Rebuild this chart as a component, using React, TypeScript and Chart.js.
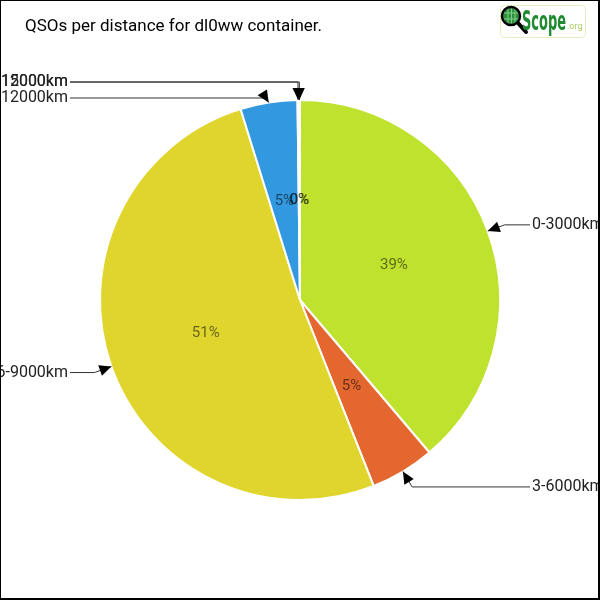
import { useEffect, useRef } from "react";
import { Chart, registerables } from "chart.js";

Chart.register(...registerables);

const TITLE = "QSOs per distance for dl0ww container.";
const categories = ["0-3000km", "3-6000km", "6-9000km", "9-12000km", "12-15000km", "15-12000km"];
const qsoCounts = [388, 52, 512, 46, 1, 1];
const sliceColors = ["#bfe22e", "#e3672f", "#e0d52c", "#3299e1", "#a6a6a6", "#8c8c8c"];

const FONT = "Roboto, 'DejaVu Sans', sans-serif";

const decorPlugin = {
  id: "decor",
  afterDraw(chart: any) {
    const ctx: CanvasRenderingContext2D = chart.ctx;
    const W = chart.width;
    const H = chart.height;
    const meta = chart.getDatasetMeta(0);
    const data = chart.data.datasets[0].data as number[];
    const labels = chart.data.labels as string[];
    const total = data.reduce((a, b) => a + b, 0);
    ctx.save();

    // percentages inside slices
    ctx.font = `15px ${FONT}`;
    ctx.fillStyle = "rgba(0,0,0,0.55)";
    ctx.textAlign = "center";
    ctx.textBaseline = "middle";
    const items: any[] = [];
    meta.data.forEach((el: any, i: number) => {
      const p = el.getProps(["x", "y", "startAngle", "endAngle", "outerRadius"], true);
      const a = (p.startAngle + p.endAngle) / 2;
      const r = p.outerRadius;
      const pct = Math.round((data[i] / total) * 100);
      ctx.fillText(pct + "%", p.x + Math.cos(a) * r * 0.5, p.y + Math.sin(a) * r * 0.5);
      const tip = { x: p.x + Math.cos(a) * r, y: p.y + Math.sin(a) * r };
      const elbow = { x: p.x + Math.cos(a) * (r + 18), y: p.y + Math.sin(a) * (r + 18) };
      items.push({
        label: labels[i],
        tip,
        elbow,
        y: elbow.y,
        left: Math.cos(a) < 0,
        cx: p.x,
        r,
      });
    });

    // resolve overlaps per side
    [true, false].forEach((side) => {
      const list = items.filter((it) => it.left === side).sort((a, b) => a.y - b.y);
      for (let k = 1; k < list.length; k++) {
        const prev = list[k - 1].y;
        if (Math.abs(list[k].y - prev) < 1) list[k].y = prev;
        else if (list[k].y < prev + 16) list[k].y = prev + 16;
      }
    });

    // callouts
    ctx.strokeStyle = "#333";
    ctx.lineWidth = 1;
    ctx.font = `16px ${FONT}`;
    ctx.textBaseline = "middle";
    items.forEach((it) => {
      const colX = it.left ? it.cx - it.r - 30 : it.cx + it.r + 30;
      const ex = it.elbow.x;
      const ey = it.y;
      ctx.beginPath();
      ctx.moveTo(it.tip.x, it.tip.y);
      ctx.lineTo(ex, ey);
      ctx.lineTo(colX, ey);
      ctx.stroke();
      // arrow head
      let dx = it.tip.x - ex;
      let dy = it.tip.y - ey;
      const len = Math.hypot(dx, dy) || 1;
      dx /= len;
      dy /= len;
      const nx = -dy;
      const ny = dx;
      ctx.fillStyle = "#000";
      ctx.beginPath();
      ctx.moveTo(it.tip.x, it.tip.y);
      ctx.lineTo(it.tip.x - dx * 12 + nx * 5.5, it.tip.y - dy * 12 + ny * 5.5);
      ctx.lineTo(it.tip.x - dx * 12 - nx * 5.5, it.tip.y - dy * 12 - ny * 5.5);
      ctx.closePath();
      ctx.fill();
      ctx.textAlign = it.left ? "right" : "left";
      ctx.fillStyle = "#222";
      ctx.fillText(it.label, it.left ? colX - 2 : colX + 2, ey);
    });

    // title
    ctx.textAlign = "left";
    ctx.textBaseline = "alphabetic";
    ctx.fillStyle = "#000";
    ctx.font = `17px ${FONT}`;
    ctx.fillText(TITLE, 25, 31);

    // logo
    ctx.strokeStyle = "#e6edc0";
    ctx.lineWidth = 1;
    ctx.beginPath();
    (ctx as any).roundRect(500.5, 5.5, 85, 32, 4);
    ctx.stroke();
    ctx.fillStyle = "#2f8f3c";
    ctx.beginPath();
    ctx.arc(511, 16, 8, 0, Math.PI * 2);
    ctx.fill();
    ctx.strokeStyle = "#7fd08a";
    ctx.lineWidth = 1;
    ctx.beginPath();
    ctx.moveTo(508, 9); ctx.lineTo(508, 23);
    ctx.moveTo(511.5, 8); ctx.lineTo(511.5, 24);
    ctx.moveTo(515, 9); ctx.lineTo(515, 23);
    ctx.moveTo(504, 13); ctx.lineTo(518, 13);
    ctx.moveTo(504, 19); ctx.lineTo(518, 19);
    ctx.stroke();
    ctx.strokeStyle = "#000";
    ctx.lineWidth = 2.5;
    ctx.beginPath();
    ctx.arc(511, 16, 9, 0, Math.PI * 2);
    ctx.stroke();
    ctx.lineWidth = 4;
    ctx.lineCap = "round";
    ctx.beginPath();
    ctx.moveTo(518, 23);
    ctx.lineTo(526, 32);
    ctx.stroke();
    ctx.fillStyle = "#1f8a30";
    ctx.font = `bold 27px 'DejaVu Sans Condensed', 'DejaVu Sans', sans-serif`;
    ctx.fillText("Scope", 522, 30, 44);
    ctx.fillStyle = "#a8d062";
    ctx.font = `9px ${FONT}`;
    ctx.fillText(".org", 567, 29);

    // frame
    ctx.fillStyle = "#000";
    ctx.fillRect(0, 0, W, 1);
    ctx.fillRect(0, 0, 1, H);
    ctx.fillRect(W - 2, 0, 2, H);
    ctx.fillRect(0, H - 2, W, 2);
    ctx.restore();
  },
};

export default function App() {
  const ref = useRef<HTMLCanvasElement | null>(null);
  useEffect(() => {
    document.body.style.margin = "0";
    const canvas = ref.current;
    if (!canvas) return;
    const chart = new Chart(canvas, {
      type: "pie",
      data: {
        labels: categories,
        datasets: [
          {
            data: qsoCounts,
            backgroundColor: sliceColors,
            borderColor: "#ffffff",
            borderWidth: 2,
            hoverBorderWidth: 2,
            hoverOffset: 0,
          },
        ],
      },
      options: {
        responsive: false,
        animation: false,
        events: [],
        layout: { padding: 99 },
        plugins: {
          legend: { display: false },
          tooltip: { enabled: false },
          title: { display: false },
        },
      },
      plugins: [decorPlugin],
    });
    return () => chart.destroy();
  }, []);
  return (
    <div style={{ width: 600, height: 600 }}>
      <canvas ref={ref} width={600} height={600} style={{ display: "block", width: 600, height: 600 }} />
    </div>
  );
}
